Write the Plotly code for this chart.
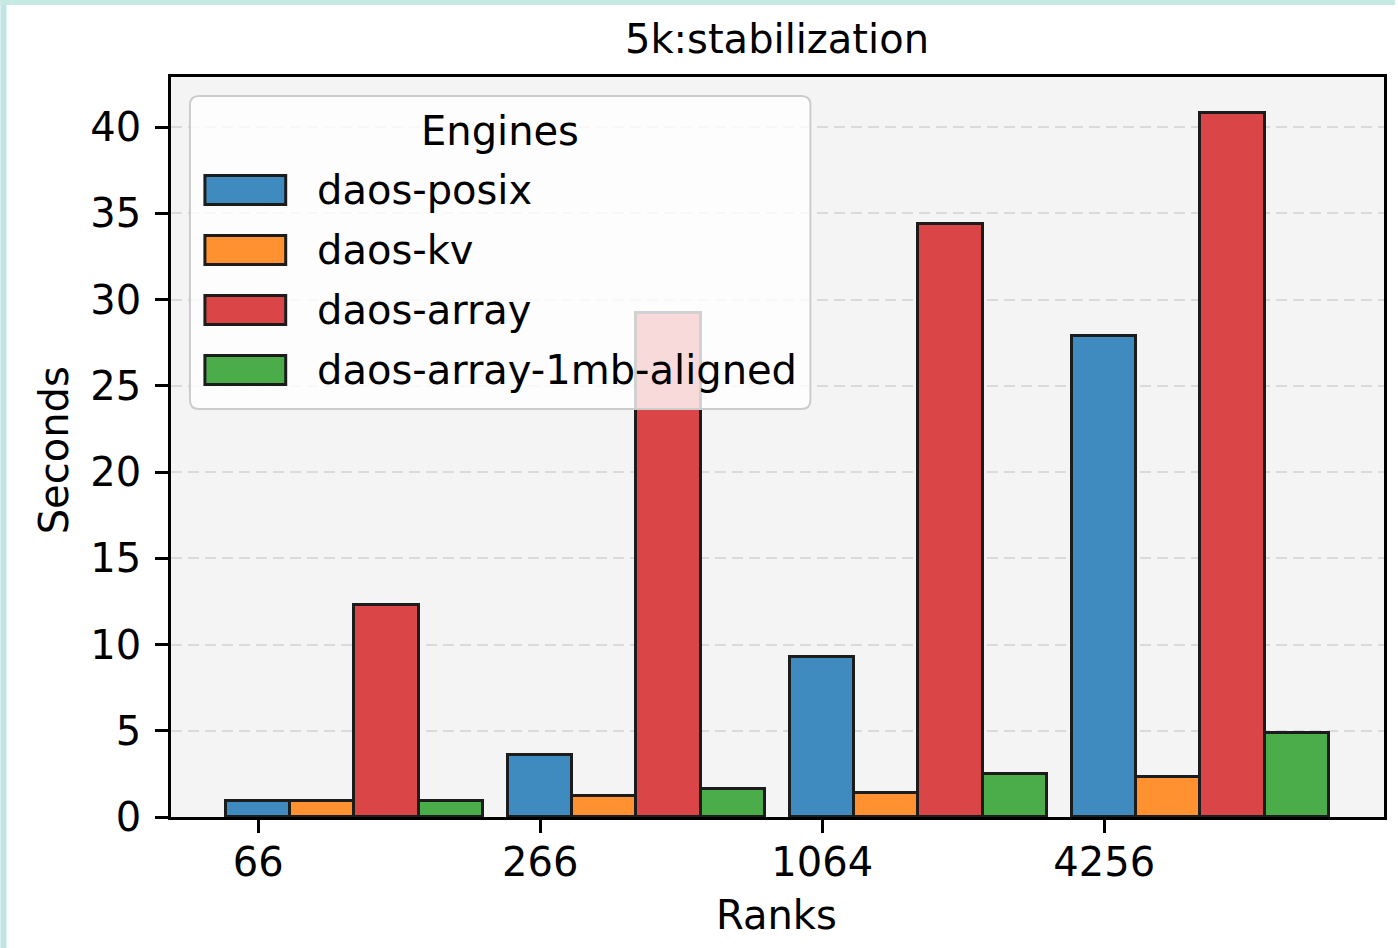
import plotly.graph_objects as go

# ---- data ----
ranks = ["66", "266", "1064", "4256"]
engines = ["daos-posix", "daos-kv", "daos-array", "daos-array-1mb-aligned"]
posix = [0.9, 3.6, 9.3, 27.9]
kv = [0.95, 1.2, 1.4, 2.3]
array = [12.3, 29.2, 34.4, 40.8]
array_1mb = [0.9, 1.6, 2.5, 4.85]
series = [posix, kv, array, array_1mb]
colors = ["#3f8abe", "#ff9130", "#da4647", "#4aad4a"]

title_text = "5k:stabilization"
FONT = "DejaVu Sans"
FS = 40

# ---- layout geometry (pixels) ----
WIDTH, HEIGHT = 1398, 948
L, R, T, B = 171, 1387, 77, 817
PW, PH = R - L, B - T


def px(x):
    return (x - L) / PW


def py(y):
    return (B - y) / PH


bar_w = 0.2275
fig = go.Figure()
for k, (name, vals, col) in enumerate(zip(engines, series, colors)):
    fig.add_trace(go.Bar(
        x=[i + k * bar_w for i in range(len(ranks))],
        y=vals,
        width=bar_w,
        name=name,
        marker=dict(color=col, line=dict(color="#1c1c1c", width=3)),
        showlegend=False,
    ))

shapes = []
annotations = []

# legend box (rounded, semi-transparent)
lx0, lx1, ly0, ly1, r = 190, 812, 96, 409, 9
path = (
    f"M {px(lx0 + r)} {py(ly0)} L {px(lx1 - r)} {py(ly0)} "
    f"Q {px(lx1)} {py(ly0)} {px(lx1)} {py(ly0 + r)} "
    f"L {px(lx1)} {py(ly1 - r)} Q {px(lx1)} {py(ly1)} {px(lx1 - r)} {py(ly1)} "
    f"L {px(lx0 + r)} {py(ly1)} Q {px(lx0)} {py(ly1)} {px(lx0)} {py(ly1 - r)} "
    f"L {px(lx0)} {py(ly0 + r)} Q {px(lx0)} {py(ly0)} {px(lx0 + r)} {py(ly0)} Z"
)
shapes.append(dict(type="path", xref="paper", yref="paper", path=path,
                   fillcolor="rgba(255,255,255,0.8)",
                   line=dict(color="#cccccc", width=2), layer="above"))
annotations.append(dict(text="Engines", x=px(501), y=py(131), xref="paper", yref="paper",
                        showarrow=False, xanchor="center", yanchor="middle",
                        font=dict(family=FONT, size=FS, color="black")))
row0, step = 190, 60
for k, (name, col) in enumerate(zip(engines, colors)):
    cy = row0 + k * step
    shapes.append(dict(type="rect", xref="paper", yref="paper",
                       x0=px(205), x1=px(286), y0=py(cy - 14.5), y1=py(cy + 14.5),
                       fillcolor=col, line=dict(color="#1c1c1c", width=3), layer="above"))
    annotations.append(dict(text=name, x=px(315), y=py(cy), xref="paper", yref="paper",
                            showarrow=False, xanchor="left", yanchor="middle",
                            font=dict(family=FONT, size=FS, color="black")))

# page frame strips
shapes.append(dict(type="rect", xref="paper", yref="paper",
                   x0=px(0), x1=px(6), y0=py(HEIGHT), y1=py(0),
                   fillcolor="#bfe6e5", line=dict(width=0), layer="above"))
shapes.append(dict(type="rect", xref="paper", yref="paper",
                   x0=px(0), x1=px(WIDTH), y0=py(5), y1=py(0),
                   fillcolor="#c6eae3", line=dict(width=0), layer="above"))

# title and axis titles
annotations.append(dict(text=title_text, x=px(778), y=py(39), xref="paper", yref="paper",
                        showarrow=False, xanchor="center", yanchor="middle",
                        font=dict(family=FONT, size=FS, color="black")))
annotations.append(dict(text="Ranks", x=px(778), y=py(915), xref="paper", yref="paper",
                        showarrow=False, xanchor="center", yanchor="middle",
                        font=dict(family=FONT, size=FS, color="black")))
annotations.append(dict(text="Seconds", x=px(54), y=py(450), xref="paper", yref="paper",
                        showarrow=False, xanchor="center", yanchor="middle", textangle=-90,
                        font=dict(family=FONT, size=FS, color="black")))

fig.update_layout(
    width=WIDTH, height=HEIGHT,
    margin=dict(l=L, r=WIDTH - R, t=T, b=HEIGHT - B),
    paper_bgcolor="white", plot_bgcolor="#f4f4f4",
    barmode="overlay", bargap=0,
    font=dict(family=FONT, size=FS, color="black"),
    shapes=shapes, annotations=annotations,
)
fig.update_xaxes(
    range=[-0.309, 3.992], tickmode="array", tickvals=list(range(len(ranks))), ticktext=ranks,
    showgrid=False, zeroline=False, showline=True, mirror=True, linecolor="black", linewidth=2.5,
    ticks="outside", ticklen=13, tickwidth=2.5, tickcolor="black", ticklabelstandoff=-5,
    tickfont=dict(family=FONT, size=FS, color="black"),
)
fig.update_yaxes(
    range=[0, 42.9], tickmode="array", tickvals=[0, 5, 10, 15, 20, 25, 30, 35, 40],
    showgrid=True, gridcolor="#dadada", gridwidth=2, griddash="11px,6px",
    zeroline=False, showline=True, mirror=True, linecolor="black", linewidth=2.5,
    ticks="outside", ticklen=13, tickwidth=2.5, tickcolor="black", ticklabelstandoff=6,
    tickfont=dict(family=FONT, size=FS, color="black"),
)

fig.write_html("out.html", config={"displayModeBar": False},
               post_script="document.body.style.margin='0';")
